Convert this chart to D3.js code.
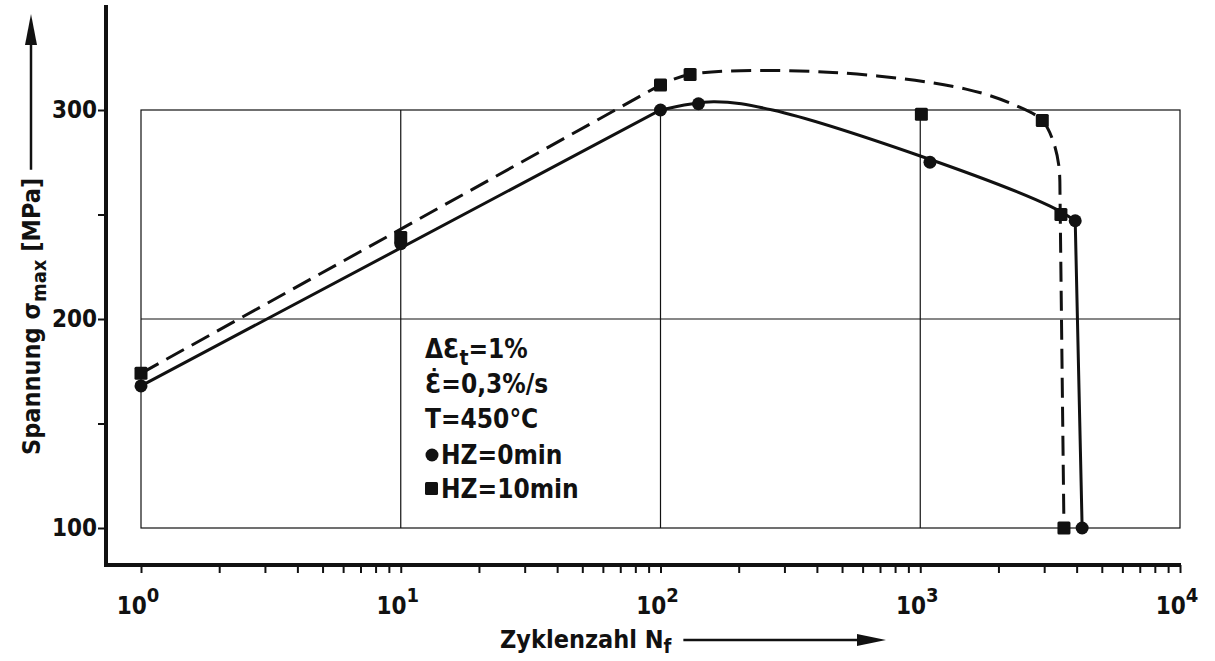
<!DOCTYPE html>
<html>
<head>
<meta charset="utf-8">
<script src="https://cdn.jsdelivr.net/npm/d3@7"></script>
<style>
body { margin: 0; background: #fff; }
text { font-family: "DejaVu Sans Condensed", "Liberation Sans Narrow", sans-serif; font-weight: bold; fill: #111; }
</style>
</head>
<body>
<div class="chart"></div>
<script>
var svgWidth = 1215;
var svgHeight = 661;

// measured points, cycles N and max stress (MPa)
var hz0N = [1, 10, 100, 140, 1090, 3950, 4200];
var hz0S = [168, 236, 300, 303, 275, 247, 100];
var hz10N = [1, 10, 100, 130, 1010, 2950, 3480, 3575];
var hz10S = [174, 239, 312, 317, 298, 295, 250, 100];

// the hand drawn curves
var hz0Rise = [[1, 168], [100, 300]];
var hz0Bend = [[100, 300], [160, 304], [270, 300], [1000, 278], [3160, 254], [3950, 247]];
var hz0Drop = [[3950, 247], [4200, 100]];
var hz10Rise = [[1, 174], [100, 312]];
var hz10Bend = [[100, 312], [130, 317], [460, 318], [1500, 310], [2350, 302], [2950, 295], [3250, 285], [3420, 273], [3450, 262]];
var hz10Drop = [[3450, 262], [3575, 100]];

var xMajor = [1, 10, 100, 1000, 10000];
var xExp = ['0', '1', '2', '3', '4'];
var yTicks = [100, 150, 200, 250, 300];
var gridX = [10, 100, 1000];
var gridY = [200];

var notes = [['Ɛ', 't', '=1%', 'Δ'], ['Ɛ̇', '', '=0,3%/s', ''], ['T=450°C', '', '', '']];
var legendLabels = ['HZ=0min', 'HZ=10min'];

var x = d3.scaleLog().domain([1, 10000]).range([141, 1180]);
var y = d3.scaleLinear().domain([100, 300]).range([528, 110]);

var svg = d3.select('.chart').append('svg')
    .attr('width', svgWidth).attr('height', svgHeight);

// grid box
var grid = svg.append('g').attr('stroke', '#111').attr('stroke-width', 1.2).attr('fill', 'none');
grid.append('rect')
    .attr('x', x(1)).attr('y', y(300))
    .attr('width', x(10000) - x(1)).attr('height', y(100) - y(300));
grid.selectAll('.gx').data(gridX).enter().append('line')
    .attr('x1', function(d) { return x(d); }).attr('x2', function(d) { return x(d); })
    .attr('y1', y(300)).attr('y2', y(100));
grid.selectAll('.gy').data(gridY).enter().append('line')
    .attr('x1', x(1)).attr('x2', x(10000))
    .attr('y1', function(d) { return y(d); }).attr('y2', function(d) { return y(d); });

// axes
var xMinor = [];
for (var e = 0; e < 4; e++) {
    for (var k = 1; k < 10; k++) xMinor.push(k * Math.pow(10, e));
}
xMinor.push(10000);

var xAxis = svg.append('g').attr('transform', 'translate(0,565)')
    .call(d3.axisBottom(x).tickValues(xMinor).tickSize(8).tickFormat(''));
xAxis.select('.domain').remove();
xAxis.selectAll('line').attr('stroke', '#111').attr('stroke-width', 2);

var yAxis = svg.append('g').attr('transform', 'translate(106,0)')
    .call(d3.axisLeft(y).tickValues(yTicks).tickSize(8).tickPadding(1)
        .tickFormat(function(d) { return d % 100 ? '' : d; }));
yAxis.select('.domain').remove();
yAxis.selectAll('line').attr('stroke', '#111').attr('stroke-width', 2);
yAxis.selectAll('text').attr('font-size', 24).attr('font-family', null).style('fill', '#111');

svg.append('line').attr('x1', 106).attr('x2', 106).attr('y1', 5).attr('y2', 567)
    .attr('stroke', '#111').attr('stroke-width', 4);
svg.append('line').attr('x1', 104).attr('x2', 1181).attr('y1', 565).attr('y2', 565)
    .attr('stroke', '#111').attr('stroke-width', 4);

// x tick labels 10^n
var xl = svg.selectAll('.xl').data(xMajor).enter().append('text')
    .attr('x', function(d) { return x(d) - 3; })
    .attr('y', 614)
    .attr('text-anchor', 'middle')
    .attr('font-size', 24);
xl.append('tspan').text('10');
xl.append('tspan').attr('dy', -12).attr('font-size', 20)
    .text(function(d, i) { return xExp[i]; });

// curves
var lin = d3.line().x(function(d) { return x(d[0]); }).y(function(d) { return y(d[1]); });
var smooth = d3.line().x(function(d) { return x(d[0]); }).y(function(d) { return y(d[1]); })
    .curve(d3.curveCatmullRom.alpha(0.5));

function joinPath(pieces) {
    return pieces.map(function(p, i) {
        var d = p[0](p[1]);
        return i ? d.replace(/^M/, 'L') : d;
    }).join('');
}

svg.append('path')
    .attr('d', joinPath([[lin, hz10Rise], [smooth, hz10Bend], [lin, hz10Drop]]))
    .attr('fill', 'none').attr('stroke', '#111').attr('stroke-width', 3)
    .attr('stroke-dasharray', '20,9');
svg.append('path')
    .attr('d', joinPath([[lin, hz0Rise], [smooth, hz0Bend], [lin, hz0Drop]]))
    .attr('fill', 'none').attr('stroke', '#111').attr('stroke-width', 3);

// markers
svg.selectAll('.sq').data(hz10N).enter().append('rect')
    .attr('x', function(d) { return x(d) - 6.5; })
    .attr('y', function(d, i) { return y(hz10S[i]) - 6.5; })
    .attr('width', 13).attr('height', 13).attr('rx', 1.5)
    .attr('fill', '#111');
svg.selectAll('.ci').data(hz0N).enter().append('circle')
    .attr('cx', function(d) { return x(d); })
    .attr('cy', function(d, i) { return y(hz0S[i]); })
    .attr('r', 6.5)
    .attr('fill', '#111');

// conditions text
var noteY = [358, 393, 428];
notes.forEach(function(n, i) {
    var t = svg.append('text').attr('x', 425).attr('y', noteY[i]).attr('font-size', 26);
    if (n[3]) t.append('tspan').text(n[3]);
    t.append('tspan').text(n[0]);
    if (n[1]) t.append('tspan').attr('dy', 7).attr('font-size', 21).text(n[1]);
    if (n[2]) t.append('tspan').attr('dy', n[1] ? -7 : 0).text(n[2]);
});

// legend
var legY = [464, 498];
svg.append('circle').attr('cx', 432).attr('cy', legY[0] - 9).attr('r', 6.5).attr('fill', '#111');
svg.append('rect').attr('x', 425).attr('y', legY[1] - 16).attr('width', 13).attr('height', 13)
    .attr('rx', 1.5).attr('fill', '#111');
svg.selectAll('.leg').data(legendLabels).enter().append('text')
    .attr('x', 441)
    .attr('y', function(d, i) { return legY[i]; })
    .attr('font-size', 26)
    .text(function(d) { return d; });

// y title with arrow
var yt = svg.append('text')
    .attr('transform', 'translate(40,455) rotate(-90)')
    .attr('font-size', 25);
yt.append('tspan').text('Spannung  σ');
yt.append('tspan').attr('dy', 6).attr('font-size', 20).text('max');
yt.append('tspan').attr('dy', -6).text(' [MPa]');
var ytLen = yt.node().getComputedTextLength();
svg.append('line').attr('x1', 31).attr('x2', 31)
    .attr('y1', 455 - ytLen - 8).attr('y2', 40)
    .attr('stroke', '#111').attr('stroke-width', 2.5);
svg.append('path').attr('d', 'M31,14 L25,45 L37,45 Z').attr('fill', '#111');

// x title with arrow
var xt = svg.append('text').attr('x', 500).attr('y', 648).attr('font-size', 25);
xt.append('tspan').text('Zyklenzahl  N');
xt.append('tspan').attr('dy', 5).attr('font-size', 20).text('f');
var xtLen = xt.node().getComputedTextLength();
svg.append('line').attr('x1', 500 + xtLen + 12).attr('x2', 862)
    .attr('y1', 640).attr('y2', 640)
    .attr('stroke', '#111').attr('stroke-width', 2.5);
svg.append('path').attr('d', 'M886,640 L857,634 L857,646 Z').attr('fill', '#111');
</script>
</body>
</html>
